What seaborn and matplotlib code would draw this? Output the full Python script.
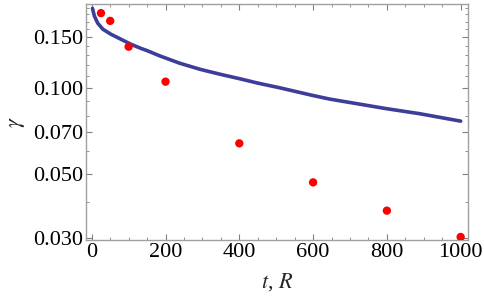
import numpy as np
import pandas as pd
import matplotlib
matplotlib.use("Agg")
import matplotlib.pyplot as plt
import matplotlib.ticker as mticker
import seaborn as sns

# curve
t_line = [2, 7, 16, 30, 52, 79, 106, 134, 150, 184, 238, 293, 347, 401, 450,
          509, 599, 645, 753, 800, 889, 1000]
gamma_line = [0.189, 0.178, 0.168, 0.160, 0.1536, 0.1476, 0.1418, 0.1370, 0.1347,
              0.1292, 0.1218, 0.1160, 0.1115, 0.1075, 0.1038, 0.1000, 0.0940,
              0.0913, 0.0865, 0.0845, 0.0812, 0.0765]

# measured points
t_pts = [25, 50, 100, 200, 400, 600, 800, 1000]
gamma_pts = [0.182, 0.171, 0.139, 0.105, 0.064, 0.0468, 0.0373, 0.0302]

y_ticks = [0.030, 0.050, 0.070, 0.100, 0.150]
y_tick_labels = ["0.030", "0.050", "0.070", "0.100", "0.150"]
y_minor = [0.04, 0.06, 0.08, 0.09, 0.11, 0.12, 0.13, 0.14, 0.16, 0.17, 0.18, 0.19]

sns.set_style("ticks")
plt.rcParams['font.family'] = ['Liberation Serif', 'DejaVu Serif']
plt.rcParams['mathtext.fontset'] = 'stix'

fig = plt.figure(figsize=(4.85, 2.98), dpi=100)
ax = fig.add_axes([0.177, 0.195, 0.788, 0.792])

df_line = pd.DataFrame({"t": t_line, "gamma": gamma_line})
df_pts = pd.DataFrame({"t": t_pts, "gamma": gamma_pts})

sns.lineplot(data=df_line, x="t", y="gamma", ax=ax, color="#3d3d9a", linewidth=2.6)
sns.scatterplot(data=df_pts, x="t", y="gamma", ax=ax, color="#ff0000", s=36,
                edgecolor="none", zorder=3)

ax.set_yscale("log")
ax.set_xlim(-16, 1020)
ax.set_ylim(0.0295, 0.196)

ax.set_xticks([0, 200, 400, 600, 800, 1000])
ax.xaxis.set_minor_locator(mticker.MultipleLocator(50))
ax.set_yticks(y_ticks)
ax.set_yticklabels(y_tick_labels)
ax.yaxis.set_minor_locator(mticker.FixedLocator(y_minor))
ax.yaxis.set_minor_formatter(mticker.NullFormatter())

for s in ax.spines.values():
    s.set_color("#a0a0a0")
    s.set_linewidth(1.0)
ax.tick_params(which="both", direction="in", top=True, right=True,
               color="#808080", labelsize=16, labelcolor="black", pad=2)
ax.tick_params(which="major", length=4, width=0.8)
ax.tick_params(which="minor", length=2, width=0.6)

ax.set_xlabel(r"$t$, $R$", fontsize=16, labelpad=7)
ax.set_ylabel(r"$\gamma$", fontsize=16, labelpad=4)

plt.savefig("out.png", dpi=100)
plt.close()
